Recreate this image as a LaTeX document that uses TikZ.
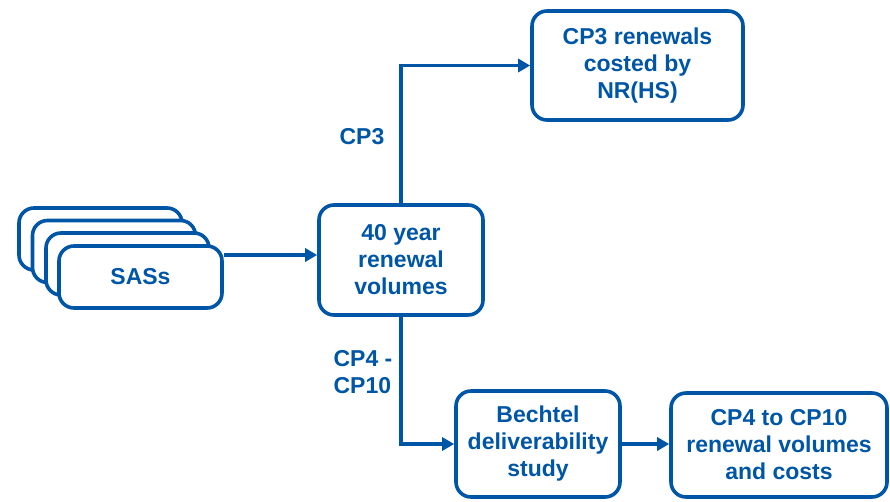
\documentclass[tikz,border=0pt]{standalone}
\usepackage{fontspec}
\setmainfont{Liberation Sans}
\usetikzlibrary{arrows.meta}
\definecolor{nrblue}{RGB}{0,86,166}
\tikzset{
  box/.style={draw=nrblue, line width=3.6pt, rounded corners=15pt, fill=white,
    text=nrblue, align=center, inner sep=0pt,
    font=\fontsize{23}{27}\selectfont\bfseries},
  arr/.style={draw=nrblue, line width=3.4pt,
    -{Triangle[length=12pt,width=13pt]}},
  lbl/.style={text=nrblue, align=left, inner sep=0pt,
    font=\fontsize{23}{27}\selectfont\bfseries}
}
\begin{document}
\begin{tikzpicture}[x=1pt,y=-1pt]
\useasboundingbox (0,0) rectangle (890,501);
% stacked SAS boxes
\node[box, minimum width=163pt, minimum height=62pt] (sas1) at (100.5,239) {};
\node[box, minimum width=163pt, minimum height=62pt] (sas2) at (114,251.5) {};
\node[box, minimum width=163pt, minimum height=62pt] (sas3) at (127.5,264) {};
\node[box, minimum width=163pt, minimum height=62pt] (sas4) at (140.5,277) {SASs};
% main boxes
\node[box, minimum width=164pt, minimum height=110pt] (yr) at (401,260) {40 year\\renewal\\volumes};
\node[box, minimum width=211pt, minimum height=109pt] (cp3) at (637.5,65.5) {CP3 renewals\\costed by\\NR(HS)};
\node[box, minimum width=164pt, minimum height=106pt] (bech) at (538,444) {Bechtel\\deliverability\\study};
\node[box, minimum width=216pt, minimum height=104pt] (cp4) at (779,445) {CP4 to CP10\\renewal volumes\\and costs};
% labels
\node[lbl] (l3) at (362,137) {CP3};
\node[lbl] (l4) at (363,372) {CP4 -\\CP10};
% connectors
\draw[arr] ([yshift=22pt]sas4.east) -- ([yshift=22pt]sas4.east -| yr.west);
\draw[arr] (yr.north) |- (cp3.west);
\draw[arr] (yr.south) |- (bech.west);
\draw[arr] (bech.east) -- (bech.east -| cp4.west);
\end{tikzpicture}
\end{document}
